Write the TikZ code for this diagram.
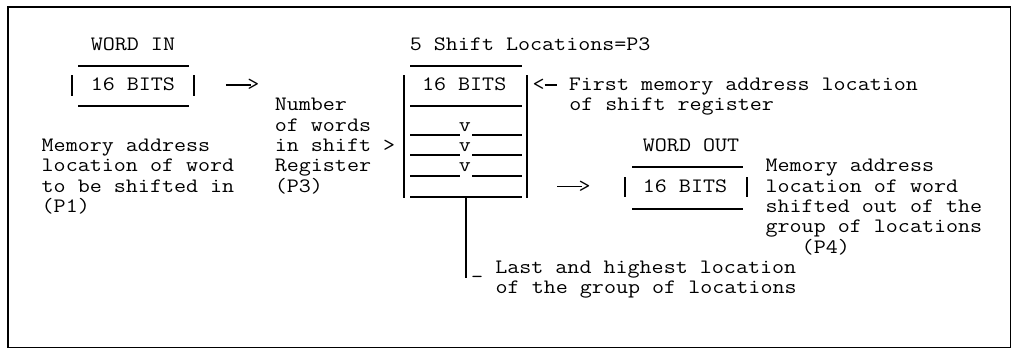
\documentclass[tikz,border=0pt]{standalone}
\usepackage{fontspec}
\newfontfamily\asciifont[FakeStretch=1.143]{Latin Modern Mono}
\begin{document}
\begin{tikzpicture}
[x=1pt, y=-1pt,
 ascii/.style={font=\asciifont\fontsize{20.45}{20.3}\selectfont, anchor=base west, inner sep=0pt, align=left},
 bar line/.style={line width=1.2pt}]
\useasboundingbox (0,0) rectangle (1013,349);

% frame
\draw[line width=1.6pt] (8,7) rectangle (1010.5,347.5);
\draw[line width=2.6pt] (8,347.5) -- (8,7) -- (1010.5,7);

% word in
\node[ascii] (wordin) at (90.6,50) {WORD IN};
\node[ascii] (bitsin) at (90.6,90.6) {16 BITS};
\draw[bar line] (78,66) -- (189,66);
\draw[bar line] (78,106) -- (189,106);
\draw[bar line] (72,75) -- (72,96);
\draw[bar line] (194,75) -- (194,96);
\node[ascii] (arrowin) at (225.6,90.6) {\rule[5pt]{25pt}{1.2pt}\kern-3.5pt>};
% multi-line texts sit on the baseline of their last line
\node[ascii] (addrin) at (41.5,212.4) {Memory address\\location of word\\to be shifted in\\(P1)};
\node[ascii] (count) at (274.6,192.1) {Number\\of words\\in shift >\\Register\\(P3)};

% shift register
\node[ascii] (shifts) at (409.6,50) {5 Shift Locations=P3};
\node[ascii] (bitsreg) at (421.9,90.6) {16 BITS};
\draw[bar line] (410,66) -- (522,66);
\draw[bar line] (410,106) -- (522,106);
\draw[bar line] (404,75) -- (404,198);
\draw[bar line] (527,75) -- (527,198);
\node[ascii] (va) at (458.7,131.2) {v};
\node[ascii] (vb) at (458.7,151.5) {v};
\node[ascii] (vc) at (458.7,171.8) {v};
\draw[bar line] (410,135) -- (460,135) (472,135) -- (522,135);
\draw[bar line] (410,155) -- (460,155) (472,155) -- (522,155);
\draw[bar line] (410,176) -- (460,176) (472,176) -- (522,176);
\draw[bar line] (410,197) -- (522,197);
\node[ascii] (first) at (532.3,90.6) {<\rule[5pt]{12.3pt}{1.2pt} First memory address location};
\node[ascii] (firstb) at (569.1,110.9) {of shift register};

% last location
\coordinate (regbot) at (466,197);
\coordinate (stemend) at (466,278);
\draw[bar line] (regbot) -- (stemend);
\node[ascii] (last) at (471,273.3) {\_ Last and highest location};
\node[ascii] (lastb) at (495.5,293.6) {of the group of locations};

% word out
\node[ascii] (arrowout) at (556.8,192.1) {\rule[5pt]{25pt}{1.2pt}\kern-3.5pt>};
\node[ascii] (wordout) at (642.7,151.5) {WORD OUT};
\node[ascii] (bitsout) at (642.7,192.1) {16 BITS};
\draw[bar line] (632,167) -- (743,167);
\draw[bar line] (632,209) -- (743,209);
\draw[bar line] (625,177) -- (625,197);
\draw[bar line] (747,177) -- (747,197);
\node[ascii] (addrout) at (765.4,253) {Memory address\\location of word\\shifted out of the\\group of locations\\\hphantom{xxx}(P4)};
\end{tikzpicture}
\end{document}
